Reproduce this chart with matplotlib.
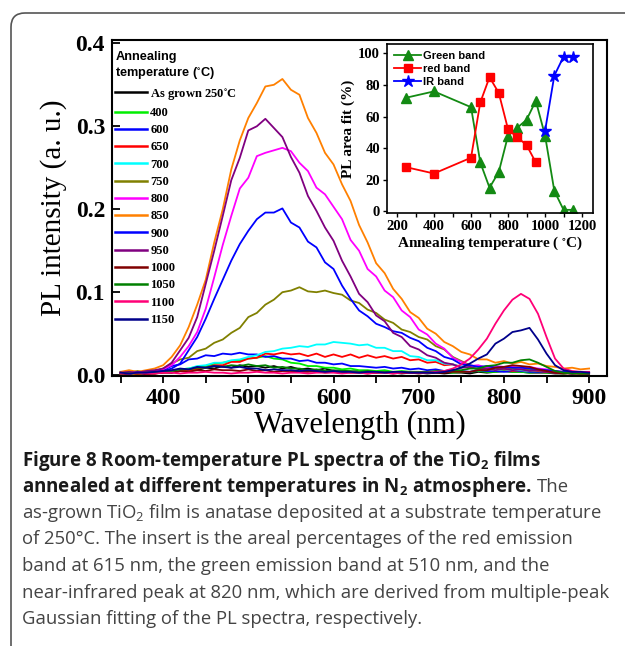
import numpy as np
import matplotlib
matplotlib.use("Agg")
import matplotlib.pyplot as plt
from matplotlib.patches import FancyBboxPatch
from matplotlib.transforms import IdentityTransform

plt.rcParams['mathtext.default'] = 'regular'

# wavelength grid (nm)
wavelength = np.arange(350, 901, 10)

labels = ['As grown 250$^{\\circ}$C', '400', '600', '650', '700', '750', '800',
          '850', '900', '950', '1000', '1050', '1100', '1150']
colors = ['#000000', '#00ee00', '#0000ff', '#ff0000', '#00ffff', '#808000',
          '#ff00ff', '#ff8000', '#0000ff', '#800080', '#800000', '#008000',
          '#ff0077', '#00008b']

as_grown = [.002, .001, .003, .002, .002, .004, .003, .005, .007, .006,
            .009, .008, .011, .009, .012, .010, .011, .009, .011, .008,
            .010, .007, .008, .006, .008, .005, .006, .004, .005, .004,
            .003, .004, .003, .002, .003, .003, .002, .003, .002, .003,
            .003, .002, .004, .003, .004, .005, .004, .004, .003, .003,
            .003, .002, .002, .003, .002, .002]
t400 = [.002, .003, .001, .003, .002, .004, .005, .007, .008, .010,
        .011, .014, .015, .017, .018, .020, .021, .023, .020, .019,
        .015, .014, .011, .011, .009, .009, .007, .008, .006, .006,
        .005, .006, .004, .005, .004, .004, .003, .004, .004, .003,
        .004, .004, .005, .004, .004, .005, .004, .004, .003, .004,
        .003, .003, .002, .003, .002, .002]
t600 = [.003, .002, .003, .001, .004, .006, .011, .013, .019, .020,
        .024, .023, .026, .025, .027, .025, .025, .022, .023, .020,
        .020, .017, .018, .015, .015, .013, .014, .011, .011, .010,
        .009, .010, .008, .009, .007, .008, .006, .007, .005, .006,
        .005, .004, .006, .005, .005, .004, .005, .005, .004, .004,
        .004, .003, .003, .002, .003, .002]
t650 = [.002, .003, .001, .003, .002, .003, .004, .006, .005, .008,
        .009, .012, .012, .016, .016, .020, .021, .026, .025, .027,
        .025, .026, .023, .026, .022, .025, .022, .025, .021, .024,
        .021, .023, .020, .022, .018, .019, .015, .016, .012, .013,
        .010, .010, .007, .008, .006, .007, .005, .006, .005, .005,
        .004, .003, .003, .002, .002, .002]
t700 = [.003, .002, .003, .002, .003, .004, .005, .007, .008, .011,
        .012, .015, .015, .018, .019, .022, .024, .028, .029, .032,
        .033, .035, .034, .037, .037, .040, .039, .038, .036, .037,
        .033, .033, .029, .029, .023, .022, .018, .018, .014, .013,
        .010, .010, .007, .008, .006, .007, .006, .006, .005, .006,
        .005, .004, .003, .004, .003, .003]
t750 = [.004, .003, .005, .003, .005, .008, .014, .019, .021, .029,
        .032, .039, .043, .051, .057, .070, .075, .085, .091, .100,
        .102, .106, .101, .100, .102, .099, .097, .090, .087, .079,
        .075, .067, .063, .055, .052, .046, .043, .035, .031, .022,
        .017, .012, .010, .008, .009, .007, .008, .007, .007, .006,
        .005, .004, .004, .003, .003, .003]
t800 = [.003, .004, .003, .004, .005, .007, .012, .022, .035, .052,
        .080, .118, .157, .192, .225, .238, .264, .268, .271, .274,
        .270, .256, .246, .226, .218, .203, .188, .163, .150, .128,
        .119, .102, .094, .078, .070, .055, .049, .038, .032, .021,
        .016, .011, .012, .009, .011, .010, .010, .009, .010, .008,
        .007, .005, .004, .004, .003, .003]
t850 = [.004, .006, .004, .006, .008, .012, .022, .036, .058, .085,
        .115, .160, .200, .248, .283, .310, .328, .348, .350, .357,
        .344, .338, .310, .292, .268, .254, .230, .210, .181, .160,
        .135, .123, .104, .092, .076, .069, .056, .050, .040, .035,
        .028, .025, .019, .019, .015, .017, .014, .016, .013, .014,
        .011, .010, .008, .009, .007, .008]
t900 = [.003, .002, .004, .003, .004, .005, .008, .014, .030, .046,
        .068, .092, .115, .138, .158, .174, .188, .196, .196, .201,
        .184, .178, .161, .154, .136, .128, .108, .092, .078, .071,
        .062, .058, .053, .051, .045, .041, .033, .029, .022, .019,
        .013, .012, .010, .011, .009, .010, .009, .009, .008, .007,
        .006, .005, .004, .004, .003, .003]
t950 = [.003, .004, .003, .005, .006, .008, .015, .030, .045, .070,
        .110, .150, .192, .235, .262, .295, .300, .309, .298, .287,
        .263, .244, .216, .198, .178, .162, .138, .119, .098, .088,
        .072, .065, .051, .046, .035, .031, .024, .021, .015, .013,
        .009, .010, .007, .008, .006, .008, .006, .007, .005, .006,
        .004, .003, .003, .002, .003, .002]
t1000 = [.002, .002, .003, .001, .002, .003, .003, .005, .004, .006,
         .005, .007, .006, .006, .005, .007, .005, .006, .004, .005,
         .005, .004, .004, .005, .003, .004, .004, .003, .003, .002,
         .003, .003, .002, .003, .003, .002, .003, .003, .003, .004,
         .004, .004, .006, .006, .009, .010, .012, .011, .010, .007,
         .005, .003, .002, .002, .002, .002]
t1050 = [.002, .003, .002, .003, .003, .004, .005, .007, .007, .009,
         .009, .011, .010, .012, .011, .013, .011, .012, .009, .010,
         .008, .008, .006, .007, .005, .006, .005, .005, .004, .005,
         .004, .004, .003, .004, .004, .004, .004, .005, .005, .006,
         .006, .008, .008, .011, .012, .015, .015, .018, .019, .015,
         .010, .005, .003, .002, .002, .002]
t1100 = [.002, .002, .003, .002, .002, .003, .003, .002, .003, .003,
         .004, .003, .003, .002, .003, .003, .004, .003, .003, .002,
         .003, .003, .002, .003, .003, .003, .002, .003, .003, .002,
         .003, .003, .002, .003, .003, .003, .003, .004, .005, .008,
         .013, .020, .031, .044, .062, .078, .091, .098, .092, .074,
         .046, .020, .008, .005, .004, .004]
t1150 = [.003, .002, .003, .003, .004, .005, .006, .008, .007, .010,
         .009, .011, .010, .009, .010, .008, .008, .006, .007, .006,
         .006, .005, .006, .005, .004, .005, .004, .004, .003, .004,
         .004, .003, .004, .004, .003, .003, .003, .003, .004, .006,
         .009, .014, .020, .025, .038, .044, .052, .054, .057, .043,
         .026, .012, .006, .004, .004, .003]

spectra = [as_grown, t400, t600, t650, t700, t750, t800,
           t850, t900, t950, t1000, t1050, t1100, t1150]

# inset: peak area fractions (%)
green_T = [250, 400, 600, 650, 700, 750, 800, 850, 900, 950, 1000, 1050, 1100, 1150]
green_pct = [72, 76, 66, 31, 15, 25, 48, 53, 58, 70, 48, 13, 1, 1]
red_T = [250, 400, 600, 650, 700, 750, 800, 850, 900, 950]
red_pct = [28, 24, 34, 69, 85, 75, 52, 47, 42, 31]
ir_T = [1000, 1050, 1100, 1150]
ir_pct = [51, 86, 98, 98]

W, H = 625, 646
fig = plt.figure(figsize=(W / 100, H / 100), dpi=100)

# rounded frame around the figure + caption
frame = FancyBboxPatch((11, -40), 700, H - 13 + 40, boxstyle="round,pad=0,rounding_size=14",
                       transform=IdentityTransform(), fill=False, edgecolor='#555555', linewidth=1.2)
fig.add_artist(frame)

serif = 'Liberation Serif'
ax = fig.add_axes([112 / W, 1 - 376 / H, (607 - 112) / W, (376 - 40) / H])
for y, lab, c in zip(spectra, labels, colors):
    ax.plot(wavelength, y, color=c, lw=1.3, label=lab)
ax.set_xlim(340, 921)
ax.set_ylim(-0.001, 0.404)
ax.set_xticks([400, 500, 600, 700, 800, 900])
ax.set_xticks([350, 450, 550, 650, 750, 850], minor=True)
ax.set_yticks([0.0, 0.1, 0.2, 0.3, 0.4])
ax.set_yticklabels(['0.0', '0.1', '0.2', '0.3', '0.4'])
ax.tick_params(axis='x', which='both', direction='out', length=5, width=1.3, pad=4)
ax.tick_params(axis='y', direction='in', length=6, width=1.3, pad=5)
for t in ax.get_xticklabels() + ax.get_yticklabels():
    t.set_fontfamily(serif)
    t.set_fontweight('bold')
    t.set_fontsize(17)
for s in ax.spines.values():
    s.set_linewidth(1.5)
ax.set_xlabel('Wavelength (nm)', fontfamily=serif, fontsize=22, labelpad=1)
ax.set_ylabel('PL intensity (a. u.)', fontfamily=serif, fontsize=21, labelpad=6)

leg = ax.legend(loc='upper left', bbox_to_anchor=(-0.006, 0.985), frameon=False,
                title='Annealing\ntemperature ($^{\\circ}$C)',
                prop={'family': serif, 'weight': 'bold', 'size': 9},
                title_fontproperties={'family': 'Liberation Sans', 'weight': 'bold', 'size': 9.2},
                handlelength=2.5, handletextpad=0.3, labelspacing=0.42,
                borderaxespad=0.3, borderpad=0.2, alignment='left')
for ln in leg.get_lines():
    ln.set_linewidth(1.8)

# inset
ins = fig.add_axes([387 / W, 1 - 213 / H, 206 / W, 169 / H])
ins.plot(green_T, green_pct, '-^', color='#138a13', ms=7, lw=1.3, label='Green band')
ins.plot(red_T, red_pct, '-s', color='#ff0000', ms=6, lw=1.3, label='red band')
ins.plot(ir_T, ir_pct, '-*', color='#0000ff', ms=9, lw=1.3, label='IR band')
ins.set_xlim(146, 1259)
ins.set_ylim(-1, 106)
ins.set_xticks([200, 400, 600, 800, 1000, 1200])
ins.set_xticks([300, 500, 700, 900, 1100], minor=True)
ins.set_yticks([0, 20, 40, 60, 80, 100])
ins.tick_params(which='both', direction='out', length=3, width=1.0, pad=2)
for t in ins.get_xticklabels() + ins.get_yticklabels():
    t.set_fontfamily(serif)
    t.set_fontweight('bold')
    t.set_fontsize(10.5)
for s in ins.spines.values():
    s.set_linewidth(1.2)
ins.set_xlabel('Annealing temperature ( $^{\\circ}$C)', fontfamily=serif, fontweight='bold',
               fontsize=11, labelpad=1)
ins.set_ylabel('PL area fit (%)', fontfamily=serif, fontweight='bold', fontsize=11, labelpad=2)
ins.legend(loc='upper left', frameon=False, prop={'family': 'Liberation Sans', 'weight': 'bold', 'size': 8},
           handlelength=2.4, handletextpad=0.2, labelspacing=0.25, borderaxespad=0.2, borderpad=0.45)

# caption
cap = 'Open Sans'
cs = 13.3
x0 = 22 / W
fig.text(x0, 1 - 461 / H, 'Figure 8 Room-temperature PL spectra of the TiO$_2$ films',
         fontfamily=cap, fontweight='bold', fontsize=13.5, color='#1a1a1a', va='center')
bold2 = fig.text(x0, 1 - 487 / H, 'annealed at different temperatures in N$_2$ atmosphere.',
                 fontfamily=cap, fontweight='bold', fontsize=13.5, color='#1a1a1a', va='center')
fig.canvas.draw()
bb = bold2.get_window_extent()
fig.text((bb.x1 + 5) / W, 1 - 487 / H, 'The', fontfamily=cap, fontsize=cs, color='#444444', va='center')
rest = ['as-grown TiO$_2$ film is anatase deposited at a substrate temperature',
        'of 250\u00b0C. The insert is the areal percentages of the red emission',
        'band at 615 nm, the green emission band at 510 nm, and the',
        'near-infrared peak at 820 nm, which are derived from multiple-peak',
        'Gaussian fitting of the PL spectra, respectively.']
for i, line in enumerate(rest):
    fig.text(x0, 1 - (513 + i * 26.5) / H, line, fontfamily=cap, fontsize=cs, color='#444444', va='center')

fig.savefig('out.png', dpi=100)
